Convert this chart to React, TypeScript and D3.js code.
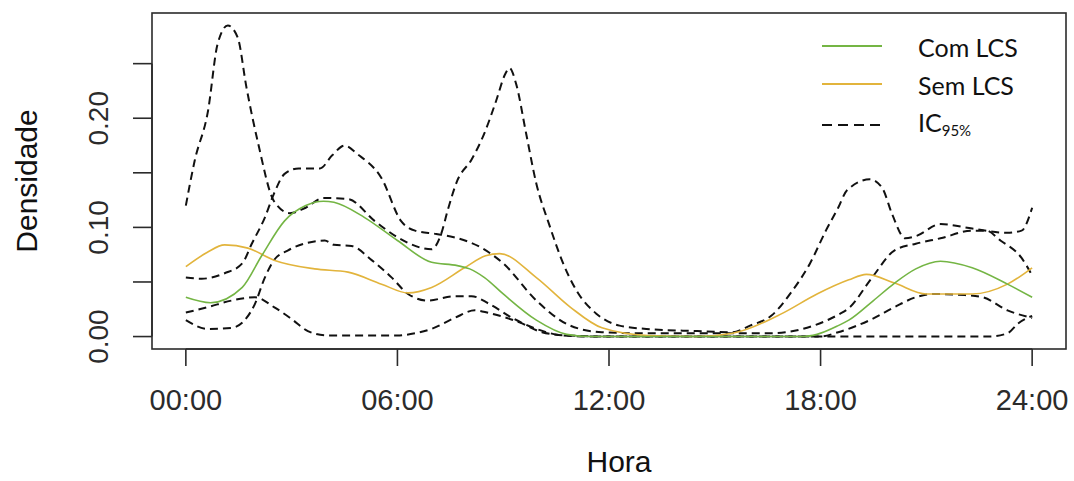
import React from "react";
import * as d3 from "d3";

// hora do dia (h) e densidade estimada
const comLCS: [number, number][] = [
  [0, 0.036], [0.7, 0.031], [1.6, 0.045], [2.15, 0.074], [2.8, 0.106], [3.4, 0.12],
  [3.9, 0.124], [4.2, 0.123], [5.07, 0.109], [6.0, 0.088], [6.97, 0.068], [7.7, 0.065],
  [8.05, 0.062], [8.47, 0.054], [9, 0.039], [9.94, 0.015], [10.8, 0.002], [11.5, 0],
  [17.5, 0], [17.9, 0.002], [18.5, 0.01], [18.8, 0.015], [19.5, 0.033], [20.1, 0.049],
  [20.7, 0.062], [21.4, 0.069], [22.3, 0.063], [23.3, 0.048], [24, 0.036],
];

const semLCS: [number, number][] = [
  [0, 0.064], [0.6, 0.077], [1.1, 0.084], [1.76, 0.081], [2.5, 0.07], [3.65, 0.062],
  [4.6, 0.059], [5.55, 0.048], [6.3, 0.04], [6.97, 0.045], [7.9, 0.063], [8.5, 0.074],
  [8.9, 0.076], [9.94, 0.054], [10.9, 0.027], [11.8, 0.008], [13.1, 0.001], [14.5, 0],
  [15.5, 0.003], [16.9, 0.021], [17.9, 0.039], [18.8, 0.052], [19.3, 0.057], [20.1, 0.049],
  [21, 0.039], [22.3, 0.039], [23.3, 0.048], [24, 0.063],
];

const icSupSem: [number, number][] = [
  [0, 0.12], [0.25, 0.161], [0.63, 0.207], [0.9, 0.268], [1.19, 0.285], [1.47, 0.274],
  [1.72, 0.228], [2.05, 0.177], [2.5, 0.124], [2.95, 0.113], [3.4, 0.118], [3.9, 0.127],
  [4.6, 0.126], [5.35, 0.106], [6, 0.091], [6.97, 0.08], [7.25, 0.095], [7.42, 0.115],
  [7.7, 0.143], [8.1, 0.162], [8.45, 0.185], [8.8, 0.216], [9.05, 0.24], [9.18, 0.246],
  [9.37, 0.231], [9.65, 0.186], [9.94, 0.14], [10.3, 0.103], [10.7, 0.067], [11.08, 0.042],
  [11.64, 0.021], [12.3, 0.01], [13.06, 0.007], [14.5, 0.005], [15.5, 0.004], [16, 0.01],
  [16.6, 0.019], [17.2, 0.042], [17.7, 0.067], [18.15, 0.097], [18.5, 0.118], [18.75, 0.134],
  [19.4, 0.144], [19.75, 0.136], [20.03, 0.112], [20.4, 0.09], [20.7, 0.092], [21.4, 0.103],
  [22.3, 0.099], [23.3, 0.095], [23.7, 0.097], [24, 0.118],
];

const icSupCom: [number, number][] = [
  [0, 0.054], [0.45, 0.053], [1.1, 0.058], [1.6, 0.067], [1.87, 0.085], [2.24, 0.109],
  [2.5, 0.131], [2.8, 0.149], [3.2, 0.154], [3.8, 0.154], [4.15, 0.166], [4.5, 0.175],
  [4.87, 0.167], [5.55, 0.145], [6.1, 0.106], [6.5, 0.097], [7.1, 0.094], [7.6, 0.091],
  [8.4, 0.081], [9, 0.067], [9.94, 0.033], [10.9, 0.01], [11.8, 0.004], [13, 0.003],
  [16.5, 0.003], [17, 0.004], [17.8, 0.01], [18.5, 0.02], [18.8, 0.026], [19.46, 0.054],
  [20.1, 0.079], [20.7, 0.085], [21.4, 0.09], [22.3, 0.097], [22.7, 0.097], [23.1, 0.088],
  [23.7, 0.072], [24, 0.056],
];

const icInfCom: [number, number][] = [
  [0, 0.015], [0.63, 0.007], [1.3, 0.008], [1.67, 0.015], [1.96, 0.03], [2.24, 0.054],
  [2.5, 0.07], [2.9, 0.079], [3.46, 0.086], [3.94, 0.088], [4.2, 0.084], [4.7, 0.083],
  [5.27, 0.07], [5.84, 0.054], [6.3, 0.039], [6.86, 0.033], [7.62, 0.037], [8.1, 0.037],
  [8.6, 0.03], [9.26, 0.017], [9.94, 0.007], [10.7, 0.001], [11.5, 0], [18, 0],
  [18.5, 0.004], [19.46, 0.016], [20.1, 0.027], [20.7, 0.036], [21.2, 0.039], [22.1, 0.038],
  [22.6, 0.036], [23.3, 0.024], [24, 0.017],
];

const icInfSem: [number, number][] = [
  [0, 0.022], [0.63, 0.027], [1.3, 0.033], [1.96, 0.036], [2.5, 0.027], [3.0, 0.016],
  [3.46, 0.005], [4, 0.001], [6, 0.001], [6.5, 0.003], [6.97, 0.007], [7.62, 0.017],
  [8.2, 0.024], [8.4, 0.023], [8.9, 0.019], [9.46, 0.013], [10.1, 0.004], [10.8, 0.001],
  [12, 0], [22.8, 0], [23.3, 0.003], [23.6, 0.012], [24, 0.019],
];

const xTicks = [0, 6, 12, 18, 24];
const xTickLabels = ["00:00", "06:00", "12:00", "18:00", "24:00"];
const yTicks = [0, 0.05, 0.1, 0.15, 0.2, 0.25];
const yTickLabels = ["0.00", "", "0.10", "", "0.20", ""];

const legendLabels = ["Com LCS", "Sem LCS", "IC"];

const GREEN = "#74b544";
const YELLOW = "#e2b43c";
const AXIS = "#2b2b2b";
const font = "'Liberation Sans', Arial, sans-serif";

export default function App() {
  const left = 152, right = 1066, top = 13, bottom = 349;

  // como no R: faixa dos dados estendida 4%
  const xExt = [0, 24];
  const allY = [comLCS, semLCS, icSupSem, icSupCom, icInfCom, icInfSem].flat().map((d) => d[1]);
  const yMin = d3.min(allY)!, yMax = d3.max(allY)!;
  const xPad = (xExt[1] - xExt[0]) * 0.04;
  const yPad = (yMax - yMin) * 0.04;

  const x = d3.scaleLinear().domain([xExt[0] - xPad, xExt[1] + xPad]).range([left, right]);
  const y = d3.scaleLinear().domain([yMin - yPad, yMax + yPad]).range([bottom, top]);

  const line = d3
    .line<[number, number]>()
    .x((d) => x(d[0]))
    .y((d) => y(d[1]))
    .curve(d3.curveMonotoneX);

  const dashed = [icSupSem, icSupCom, icInfCom, icInfSem];

  return (
    <svg
      width={1074}
      height={481}
      style={{ position: "absolute", left: 0, top: 0, background: "#fff" }}
    >
      <rect x={0} y={0} width={1074} height={481} fill="#fff" />

      {dashed.map((d, i) => (
        <path
          key={"ic" + i}
          d={line(d) || ""}
          fill="none"
          stroke="#111"
          strokeWidth={2}
          strokeDasharray="8 5"
        />
      ))}
      <path d={line(semLCS) || ""} fill="none" stroke={YELLOW} strokeWidth={1.6} />
      <path d={line(comLCS) || ""} fill="none" stroke={GREEN} strokeWidth={1.6} />

      {/* caixa */}
      <rect
        x={left}
        y={top}
        width={right - left}
        height={bottom - top}
        fill="none"
        stroke={AXIS}
        strokeWidth={1.6}
      />

      {/* eixo x */}
      <line x1={x(0)} x2={x(24)} y1={bottom} y2={bottom} stroke={AXIS} strokeWidth={1.6} />
      {xTicks.map((t, i) => (
        <g key={"xt" + t}>
          <line x1={x(t)} x2={x(t)} y1={bottom} y2={bottom + 17} stroke={AXIS} strokeWidth={1.6} />
          <text
            x={x(t)}
            y={410}
            textAnchor="middle"
            fontFamily={font}
            fontSize={29}
            fill={AXIS}
          >
            {xTickLabels[i]}
          </text>
        </g>
      ))}

      {/* eixo y */}
      <line x1={left} x2={left} y1={y(0)} y2={y(0.25)} stroke={AXIS} strokeWidth={1.6} />
      {yTicks.map((t, i) => (
        <g key={"yt" + t}>
          <line x1={left - 19} x2={left} y1={y(t)} y2={y(t)} stroke={AXIS} strokeWidth={1.6} />
          {yTickLabels[i] && (
            <text
              transform={`translate(108,${y(t)}) rotate(-90)`}
              textAnchor="middle"
              fontFamily={font}
              fontSize={28}
              fill={AXIS}
            >
              {yTickLabels[i]}
            </text>
          )}
        </g>
      ))}

      <text
        x={(left + right) / 2 + 10}
        y={472}
        textAnchor="middle"
        fontFamily={font}
        fontSize={30}
        fill="#111"
      >
        Hora
      </text>
      <text
        transform={`translate(37,${(top + bottom) / 2}) rotate(-90)`}
        textAnchor="middle"
        fontFamily={font}
        fontSize={30}
        fill="#111"
      >
        Densidade
      </text>

      {/* legenda */}
      <g fontFamily="Lato, 'Open Sans', sans-serif" fontSize={25} fill="#111">
        <line x1={822} x2={882} y1={46} y2={46} stroke={GREEN} strokeWidth={2} />
        <text x={918} y={57}>{legendLabels[0]}</text>
        <line x1={822} x2={882} y1={84} y2={84} stroke={YELLOW} strokeWidth={2} />
        <text x={918} y={95}>{legendLabels[1]}</text>
        <line
          x1={822}
          x2={884}
          y1={125}
          y2={125}
          stroke="#111"
          strokeWidth={2}
          strokeDasharray="10 6"
        />
        <text x={918} y={132}>
          {legendLabels[2]}
          <tspan fontSize={15} dy={4}>95%</tspan>
        </text>
      </g>
    </svg>
  );
}
